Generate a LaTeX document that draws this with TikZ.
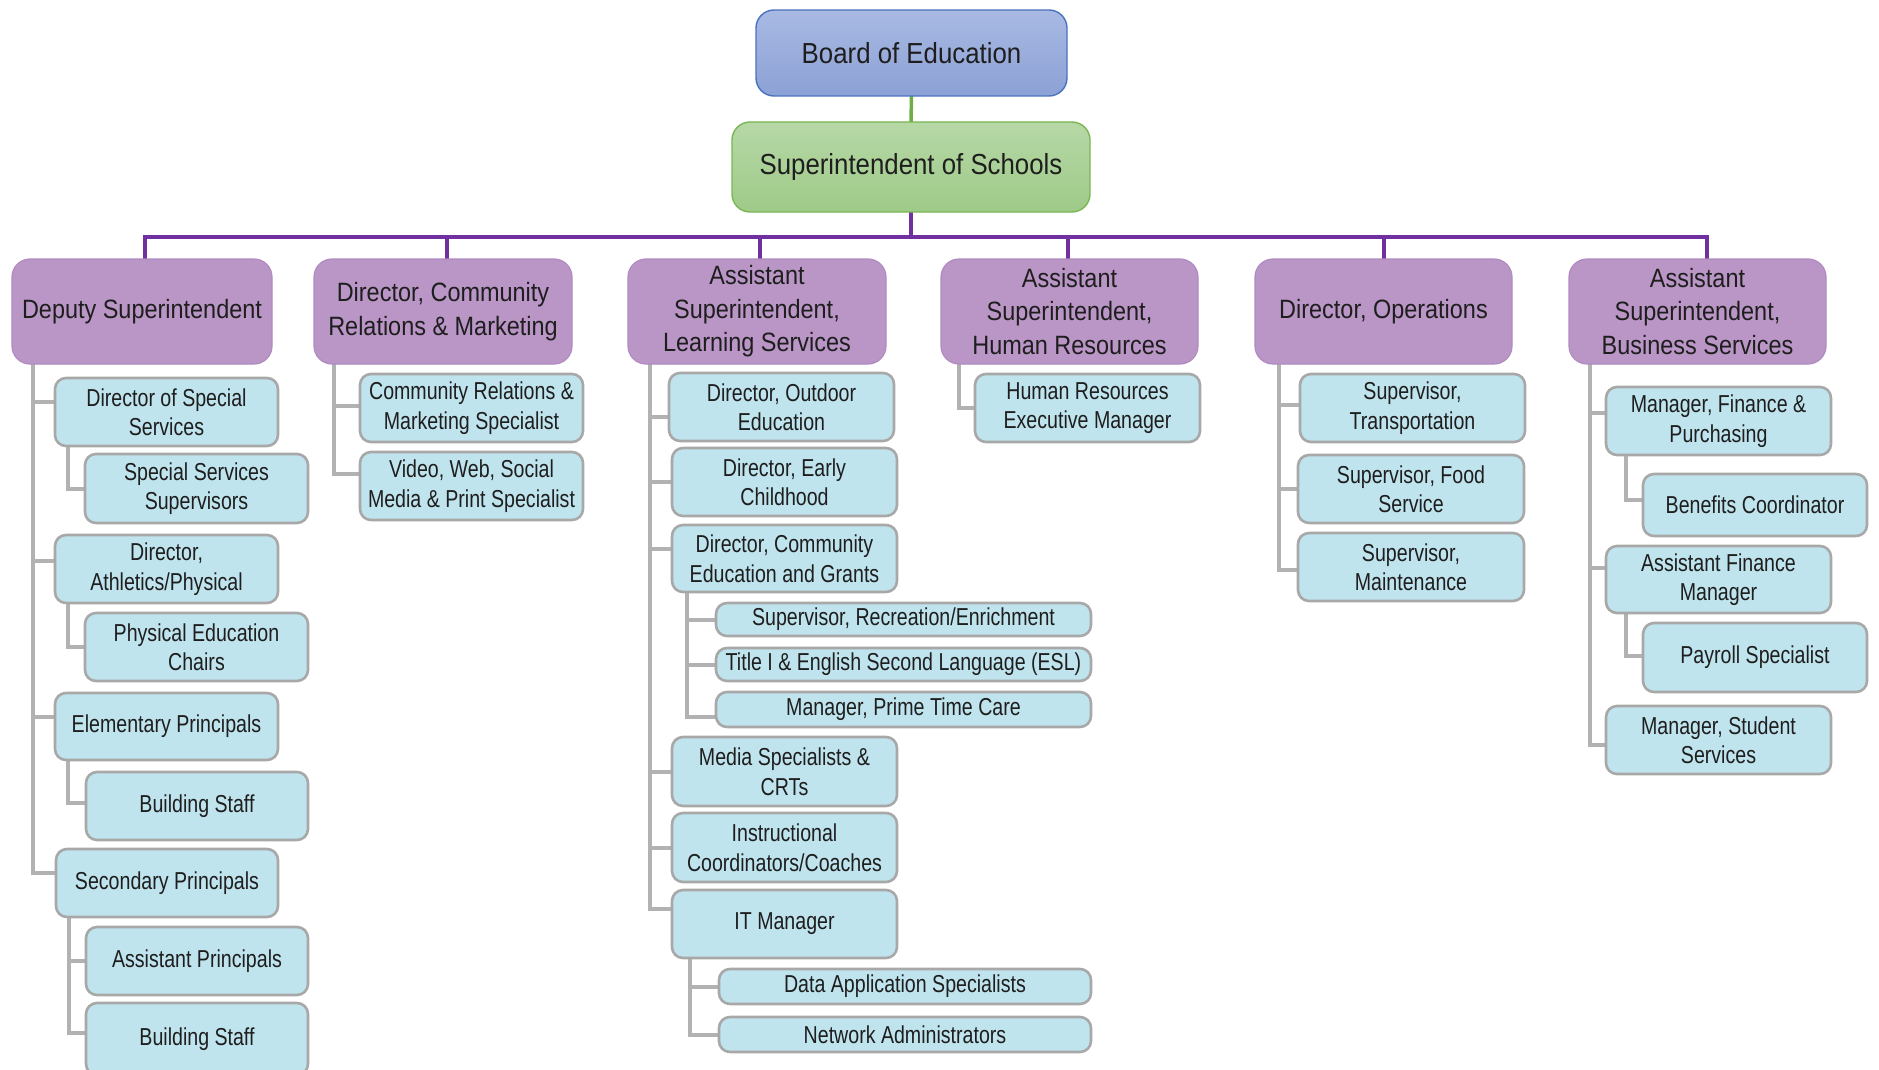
\documentclass[tikz,border=0pt]{standalone}
\usepackage{fontspec}
\setmainfont{Liberation Sans}[FakeStretch=0.80]
\newfontfamily\widefont{Liberation Sans}[FakeStretch=0.885]
\newfontfamily\titlefont{Liberation Sans}[FakeStretch=0.89]
\definecolor{txt}{HTML}{1E1E1E}
\definecolor{bluefill}{HTML}{C0E4EE}
\definecolor{blueedge}{HTML}{A8A8A8}
\definecolor{purpfill}{HTML}{BA96C6}
\definecolor{purpedge}{HTML}{B08AC0}
\definecolor{boardtop}{HTML}{A8B9E3}
\definecolor{boardbot}{HTML}{8CA1D5}
\definecolor{boardedge}{HTML}{4A72BE}
\definecolor{suptop}{HTML}{B6D8A6}
\definecolor{supbot}{HTML}{9ECA88}
\definecolor{supedge}{HTML}{7AB655}
\definecolor{purpline}{HTML}{7030A0}
\definecolor{greenline}{HTML}{70AD47}
\definecolor{greyline}{HTML}{B2B2B2}
\pgfdeclarelayer{bg}
\pgfsetlayers{bg,main}
\tikzset{
  boxbase/.style={rectangle, inner sep=0pt, outer sep=0pt, align=center, text=txt},
  bluebox/.style={boxbase, fill=bluefill, draw=blueedge, line width=2.6pt, rounded corners=11pt,
    font=\fontsize{24.5}{29.5}\selectfont},
  purpbox/.style={boxbase, fill=purpfill, draw=purpedge, line width=1.2pt, rounded corners=18pt,
    font=\widefont\fontsize{26.5}{33.5}\selectfont},
  boardbox/.style={boxbase, top color=boardtop, bottom color=boardbot, draw=boardedge, line width=1.4pt,
    rounded corners=18pt, font=\titlefont\fontsize{29}{34}\selectfont},
  supbox/.style={boxbase, top color=suptop, bottom color=supbot, draw=supedge, line width=1.4pt,
    rounded corners=18pt, font=\titlefont\fontsize{29}{34}\selectfont},
  gl/.style={draw=greyline, line width=4pt},
  pl/.style={draw=purpline, line width=4pt},
  grl/.style={draw=greenline, line width=3.5pt},
}
% style, left, top, right, bottom, name, text
\newcommand\bx[7]{\node[#1, anchor=north west, minimum width=#4-#2, minimum height=#5-#3] (#6) at (#2,#3) {#7};}
% parent, x offset of trunk, child, y shift at child
\newcommand\lk[4]{\draw[gl] ([xshift=#2pt]#1.south west) |- ([yshift=#4pt]#3.west);}
\newcommand\pk[2]{\draw[pl] (sup.south) -- ++(0,25) -| ([xshift=#2pt]#1.north);}
\begin{document}
\begin{tikzpicture}[x=1pt,y=-1pt]
\useasboundingbox (0,0) rectangle (1879,1070);
% top
\bx{boardbox}{756}{10}{1067}{96}{board}{Board of Education}
\bx{supbox}{732}{122}{1090}{212}{sup}{Superintendent of Schools}
% purple level
\bx{purpbox}{12}{259}{272}{364}{p1}{Deputy Superintendent}
\bx{purpbox}{314}{259}{572}{364}{p2}{Director, Community\\Relations \& Marketing}
\bx{purpbox}{628}{259}{886}{364}{p3}{Assistant\\Superintendent,\\Learning Services}
\bx{purpbox}{941}{259}{1198}{364}{p4}{Assistant\\Superintendent,\\Human Resources}
\bx{purpbox}{1255}{259}{1512}{364}{p5}{Director, Operations}
\bx{purpbox}{1569}{259}{1826}{364}{p6}{Assistant\\Superintendent,\\Business Services}
% column 1
\bx{bluebox}{55}{378}{278}{446}{a1}{Director of Special\\Services}
\bx{bluebox}{85}{454}{308}{523}{a1s}{Special Services\\Supervisors}
\bx{bluebox}{55}{535}{278}{603}{a2}{Director,\\Athletics/Physical}
\bx{bluebox}{85}{613}{308}{681}{a2s}{Physical Education\\Chairs}
\bx{bluebox}{55}{693}{278}{760}{a3}{Elementary Principals}
\bx{bluebox}{86}{772}{308}{840}{a3s}{Building Staff}
\bx{bluebox}{56}{849}{278}{917}{a4}{Secondary Principals}
\bx{bluebox}{86}{927}{308}{995}{a4s1}{Assistant Principals}
\bx{bluebox}{86}{1003}{308}{1075}{a4s2}{Building Staff}
% column 2
\bx{bluebox}{360}{374}{583}{442}{b1}{Community Relations \&\\Marketing Specialist}
\bx{bluebox}{360}{452}{583}{520}{b2}{Video, Web, Social\\Media \& Print Specialist}
% column 3
\bx{bluebox}{669}{373}{894}{441}{c1}{Director, Outdoor\\Education}
\bx{bluebox}{672}{448}{897}{516}{c2}{Director, Early\\Childhood}
\bx{bluebox}{672}{525}{897}{592}{c3}{Director, Community\\Education and Grants}
\bx{bluebox}{716}{603}{1091}{636}{c3a}{Supervisor, Recreation/Enrichment}
\bx{bluebox}{716}{648}{1091}{681}{c3b}{Title I \& English Second Language (ESL)}
\bx{bluebox}{716}{692}{1091}{727}{c3c}{Manager, Prime Time Care}
\bx{bluebox}{672}{737}{897}{806}{c4}{Media Specialists \&\\CRTs}
\bx{bluebox}{672}{813}{897}{882}{c5}{Instructional\\Coordinators/Coaches}
\bx{bluebox}{672}{890}{897}{958}{c6}{IT Manager}
\bx{bluebox}{719}{969}{1091}{1004}{c6a}{Data Application Specialists}
\bx{bluebox}{719}{1017}{1091}{1052}{c6b}{Network Administrators}
% column 4
\bx{bluebox}{975}{374}{1200}{442}{d1}{Human Resources\\Executive Manager}
% column 5
\bx{bluebox}{1300}{374}{1525}{442}{e1}{Supervisor,\\Transportation}
\bx{bluebox}{1298}{455}{1524}{523}{e2}{Supervisor, Food\\Service}
\bx{bluebox}{1298}{533}{1524}{601}{e3}{Supervisor,\\Maintenance}
% column 6
\bx{bluebox}{1606}{387}{1831}{455}{f1}{Manager, Finance \&\\Purchasing}
\bx{bluebox}{1643}{474}{1867}{536}{f1a}{Benefits Coordinator}
\bx{bluebox}{1606}{546}{1831}{613}{f2}{Assistant Finance\\Manager}
\bx{bluebox}{1643}{623}{1867}{692}{f2a}{Payroll Specialist}
\bx{bluebox}{1606}{706}{1831}{774}{f3}{Manager, Student\\Services}
\begin{pgfonlayer}{bg}
\draw[grl] (board.south) -- (sup.north);
\pk{p1}{3}
\pk{p2}{4}
\pk{p3}{3}
\pk{p4}{-2}
\pk{p5}{0}
\pk{p6}{9}
% column 1
\lk{p1}{21}{a1}{10}
\lk{p1}{21}{a2}{8}
\lk{p1}{21}{a3}{10}
\lk{p1}{21}{a4}{10}
\lk{a1}{13}{a1s}{0}
\lk{a2}{13}{a2s}{0}
\lk{a3}{13}{a3s}{3}
\lk{a4}{13}{a4s1}{0}
\lk{a4}{13}{a4s2}{6}
% column 2
\lk{p2}{20}{b1}{2}
\lk{p2}{20}{b2}{12}
% column 3
\lk{p3}{22}{c1}{-10}
\lk{p3}{22}{c2}{0}
\lk{p3}{22}{c3}{10}
\lk{p3}{22}{c4}{0}
\lk{p3}{22}{c5}{0}
\lk{p3}{22}{c6}{15}
\lk{c3}{15}{c3a}{0}
\lk{c3}{15}{c3b}{0}
\lk{c3}{15}{c3c}{-7}
\lk{c6}{18}{c6a}{0}
\lk{c6}{18}{c6b}{0}
% column 4
\lk{p4}{18}{d1}{0}
% column 5
\lk{p5}{24}{e1}{3}
\lk{p5}{24}{e2}{0}
\lk{p5}{24}{e3}{-3}
% column 6
\lk{p6}{21}{f1}{8}
\lk{p6}{21}{f2}{12}
\lk{p6}{21}{f3}{-5}
\lk{f1}{20}{f1a}{5}
\lk{f2}{20}{f2a}{2}
\end{pgfonlayer}
\end{tikzpicture}
\end{document}
